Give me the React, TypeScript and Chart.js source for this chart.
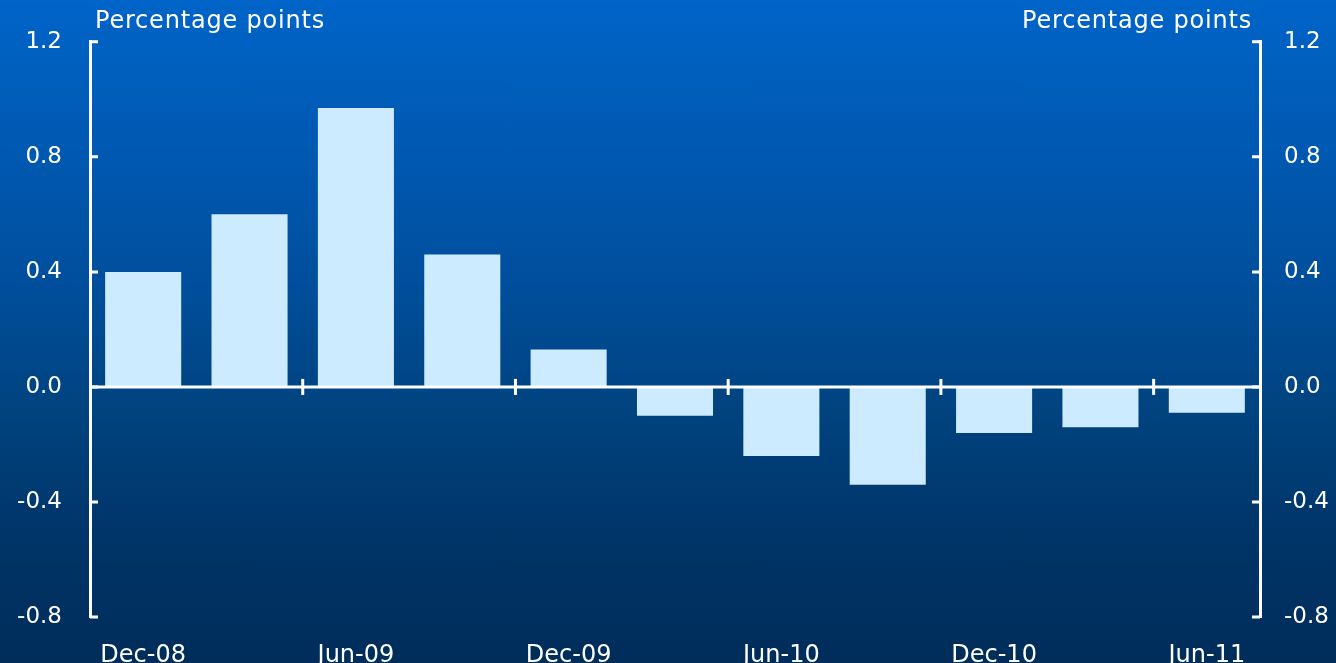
import React, { useEffect, useRef } from "react";
import { Chart, registerables } from "chart.js";

Chart.register(...registerables);

// Quarterly changes, percentage points
const categories = [
  "Dec-08", "Mar-09", "Jun-09", "Sep-09", "Dec-09", "Mar-10",
  "Jun-10", "Sep-10", "Dec-10", "Mar-11", "Jun-11",
];
const values = [0.40, 0.60, 0.97, 0.46, 0.13, -0.10, -0.24, -0.34, -0.16, -0.14, -0.09];
const yMin = -0.8;
const yMax = 1.2;
const yStep = 0.4;
const unitLabel = "Percentage points";

const FONT = "DejaVu Sans";
const WHITE = "#ffffff";
const BAR = "#cdebff";

const overlay = {
  id: "overlay",
  afterDatasetsDraw(chart: any) {
    const { ctx, chartArea } = chart;
    const x = chart.scales.x;
    const y = chart.scales.y;
    const y0 = y.getPixelForValue(0);
    ctx.save();
    ctx.strokeStyle = WHITE;
    ctx.lineWidth = 3;
    // zero line
    ctx.beginPath();
    ctx.moveTo(chartArea.left, y0);
    ctx.lineTo(chartArea.right, y0);
    ctx.stroke();
    // half-year ticks between category pairs
    for (let i = 1; i < categories.length - 1; i += 2) {
      const px = (x.getPixelForValue(i) + x.getPixelForValue(i + 1)) / 2;
      ctx.beginPath();
      ctx.moveTo(px, y0 - 8);
      ctx.lineTo(px, y0 + 8);
      ctx.stroke();
    }
    // inward ticks on both value axes
    for (let v = yMin; v <= yMax + 1e-9; v += yStep) {
      const py = y.getPixelForValue(v);
      ctx.beginPath();
      ctx.moveTo(chartArea.left, py);
      ctx.lineTo(chartArea.left + 8, py);
      ctx.moveTo(chartArea.right, py);
      ctx.lineTo(chartArea.right - 8, py);
      ctx.stroke();
    }
    // unit labels
    ctx.fillStyle = WHITE;
    ctx.font = `24px '${FONT}'`;
    (ctx as any).letterSpacing = "0.8px";
    ctx.textBaseline = "middle";
    ctx.textAlign = "left";
    ctx.fillText(unitLabel, chartArea.left + 5, 22);
    ctx.textAlign = "right";
    ctx.fillText(unitLabel, chartArea.right - 8, 22);
    ctx.restore();
  },
};

export default function App() {
  const ref = useRef<HTMLCanvasElement>(null);

  useEffect(() => {
    if (!ref.current) return;
    const yCommon = {
      min: yMin,
      max: yMax,
      grid: { display: false, drawTicks: false },
      border: { display: true, color: WHITE, width: 3 },
      ticks: {
        stepSize: yStep,
        color: WHITE,
        font: { family: FONT, size: 23 },
        callback: (v: any) => Number(v).toFixed(1),
      },
    };
    const chart = new Chart(ref.current, {
      type: "bar",
      data: {
        labels: categories,
        datasets: [
          {
            data: values,
            backgroundColor: BAR,
            borderWidth: 0,
            barPercentage: 0.715,
            categoryPercentage: 1,
          },
        ],
      },
      options: {
        animation: false,
        responsive: false,
        layout: { padding: { top: 40, left: 0, right: 0, bottom: 0 } },
        plugins: { legend: { display: false }, tooltip: { enabled: false } },
        scales: {
          x: {
            grid: { display: false, drawTicks: false },
            border: { display: false },
            ticks: {
              color: WHITE,
              font: { family: FONT, size: 24 },
              autoSkip: false,
              maxRotation: 0,
              padding: 24,
              callback: (_v: any, i: number) => (i % 2 === 0 ? categories[i] : ""),
            },
            afterFit: (s: any) => {
              s.height = 46;
            },
          },
          y: {
            ...yCommon,
            position: "left",
            ticks: { ...yCommon.ticks, padding: 28 },
            afterFit: (s: any) => {
              s.width = 90;
            },
          },
          y2: {
            ...yCommon,
            position: "right",
            ticks: { ...yCommon.ticks, padding: 24 },
            afterFit: (s: any) => {
              s.width = 76;
            },
          },
        },
      },
      plugins: [overlay],
    });
    return () => chart.destroy();
  }, []);

  return (
    <div
      style={{
        position: "fixed",
        left: 0,
        top: 0,
        width: 1336,
        height: 663,
        overflow: "hidden",
        background:
          "linear-gradient(to bottom, #0064c8 0%, #0050a0 40%, #00437f 62%, #003467 82%, #002d5a 100%)",
      }}
    >
      <canvas ref={ref} width={1336} height={663} style={{ display: "block" }} />
    </div>
  );
}
